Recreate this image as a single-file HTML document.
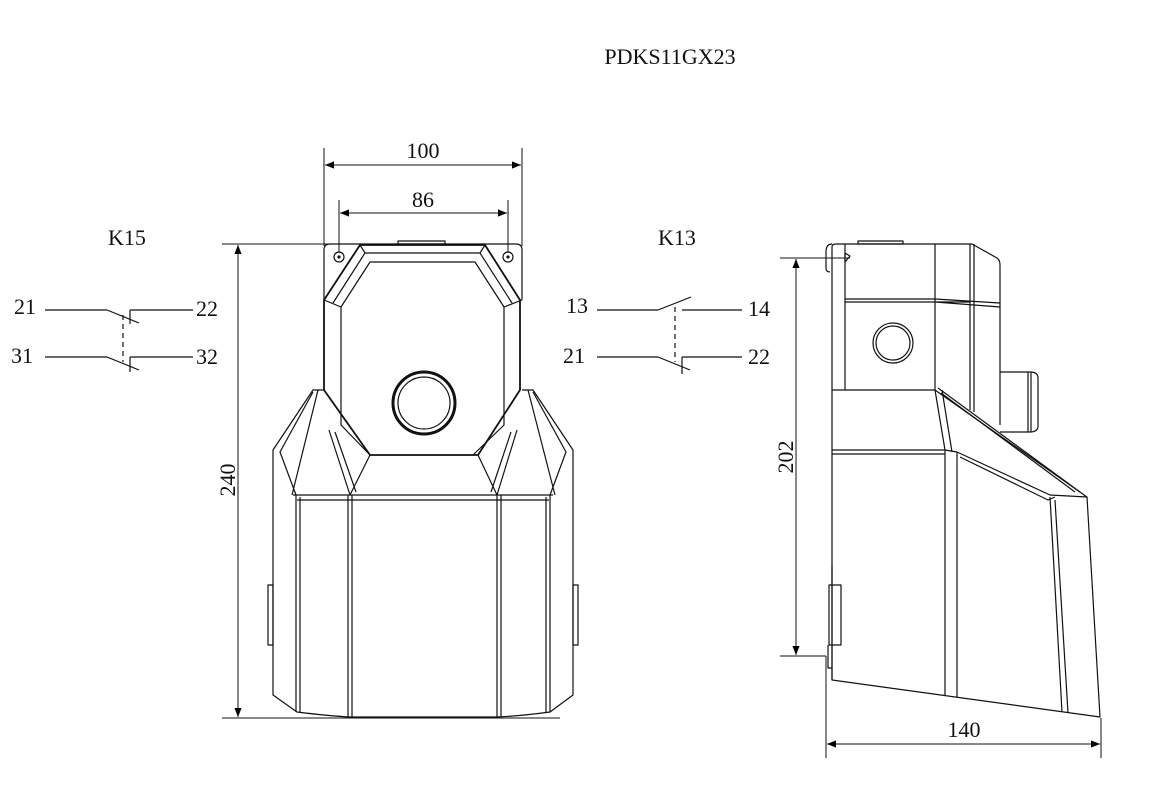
<!DOCTYPE html>
<html><head><meta charset="utf-8"><style>
html,body{margin:0;padding:0;background:#fff;}
svg{display:block;}
text{font-family:"Liberation Serif",serif;fill:#111;}
</style></head><body>
<svg width="1149" height="808" viewBox="0 0 1149 808" xmlns="http://www.w3.org/2000/svg">
<defs>
<marker id="a" viewBox="0 0 10 10" refX="10" refY="5" markerWidth="16" markerHeight="9" markerUnits="userSpaceOnUse" orient="auto-start-reverse"><path d="M0,1 L10,5 L0,9 z" fill="#000"/></marker>
</defs>
<text x="670" y="64" font-size="22" text-anchor="middle">PDKS11GX23</text>
<text x="127" y="245" font-size="22" text-anchor="middle">K15</text>
<text x="677" y="245" font-size="22" text-anchor="middle">K13</text>

<g stroke="#111" stroke-width="1.2" fill="none">
<line x1="45" y1="310" x2="107" y2="310"/><line x1="107" y1="310" x2="139" y2="323"/>
<line x1="130" y1="310" x2="193" y2="310"/><line x1="130" y1="310" x2="130" y2="324"/>
<line x1="45" y1="357" x2="107" y2="357"/><line x1="107" y1="357" x2="139" y2="370"/>
<line x1="130" y1="357" x2="193" y2="357"/><line x1="130" y1="357" x2="130" y2="372"/>
<line x1="123" y1="315" x2="123" y2="362" stroke-dasharray="5,4"/>
<line x1="597" y1="310" x2="658" y2="310"/><line x1="658" y1="310" x2="691" y2="297"/>
<line x1="682" y1="310" x2="742" y2="310"/>
<line x1="597" y1="357" x2="658" y2="357"/><line x1="658" y1="357" x2="690" y2="370"/>
<line x1="682" y1="357" x2="742" y2="357"/><line x1="682" y1="357" x2="682" y2="374"/>
<line x1="675" y1="307" x2="675" y2="362" stroke-dasharray="5,4"/>
</g>
<g font-size="22">
<text x="14" y="314">21</text><text x="196" y="316">22</text>
<text x="11" y="363">31</text><text x="196" y="364">32</text>
<text x="566" y="313">13</text><text x="748" y="316">14</text>
<text x="563" y="363">21</text><text x="748" y="364">22</text>
</g>

<g stroke="#111" stroke-width="1" fill="none">
<line x1="324" y1="148" x2="324" y2="246"/><line x1="522" y1="148" x2="522" y2="246"/>
<line x1="325" y1="165" x2="521" y2="165" marker-start="url(#a)" marker-end="url(#a)"/>
<line x1="339" y1="200" x2="339" y2="252"/><line x1="508" y1="200" x2="508" y2="252"/>
<line x1="340" y1="213" x2="507" y2="213" marker-start="url(#a)" marker-end="url(#a)"/>
<line x1="222" y1="244" x2="330" y2="244"/><line x1="222" y1="718" x2="560" y2="718"/>
<line x1="238" y1="245" x2="238" y2="717" marker-start="url(#a)" marker-end="url(#a)"/>
</g>
<text x="423" y="158" font-size="22" text-anchor="middle">100</text>
<text x="423" y="207" font-size="22" text-anchor="middle">86</text>
<text transform="translate(235,480) rotate(-90)" font-size="22" text-anchor="middle">240</text>

<g stroke="#111" stroke-width="1.2" fill="none" stroke-linejoin="round">
<path d="M330,244 H516 Q522,244 522,250 V300 M324,300 V250 Q324,244 330,244"/>
<rect x="398" y="241" width="47" height="3"/>
<circle cx="339" cy="257" r="5"/><circle cx="339" cy="257" r="1" fill="#111"/>
<circle cx="508" cy="257" r="5"/><circle cx="508" cy="257" r="1" fill="#111"/>
<path d="M360,245 H485 L520,300 V390 L478,455 H370 L324,390 V300 Z" stroke-width="1.8"/>
<path d="M370,262 H475 L504,307 V425 L473,455 M370,455 L341,425 V307 L370,262"/>
<path d="M365,253 H480 L512,303 M333,303 L365,253 M360,245 L365,253 M485,245 L480,253"/>
<path d="M324,300 L341,307 M522,300 L504,307"/>
<circle cx="424" cy="403" r="31" stroke-width="3"/>
<circle cx="424" cy="403" r="26"/>
<path d="M324,390 L313,390 L273,450 V695 L297,712 Q330,716 350,717 H497 Q520,716 550,712 L573,695 V450 L533,390 L522,390"/>
<path d="M318,390 L292,495 M313,392 L280,452 L296,495 M528,390 L555,495 M533,392 L566,452 L550,495"/>
<path d="M293,495 H553 M297,500 H549"/>
<path d="M296,495 V712 M300,497 V713 M348,495 V717 M352,495 V717 M497,495 V717 M501,495 V717 M550,495 V712 M546,497 V713"/>
<path d="M329,430 L350,495 M370,455 L350,495 M517,430 L497,495 M478,455 L497,495 M335,432 L356,492 M511,432 L491,492"/>
<rect x="268" y="585" width="5" height="60"/><rect x="573" y="585" width="5" height="60"/>
</g>

<g stroke="#111" stroke-width="1" fill="none">
<line x1="780" y1="258" x2="850" y2="258"/><line x1="780" y1="656" x2="826" y2="656"/>
<line x1="796" y1="259" x2="796" y2="655" marker-start="url(#a)" marker-end="url(#a)"/>
<line x1="826" y1="656" x2="826" y2="758"/><line x1="1101" y1="718" x2="1101" y2="758"/>
<line x1="827" y1="744" x2="1100" y2="744" marker-start="url(#a)" marker-end="url(#a)"/>
</g>
<text transform="translate(793,457) rotate(-90)" font-size="22" text-anchor="middle">202</text>
<text x="964" y="737" font-size="22" text-anchor="middle">140</text>

<g stroke="#111" stroke-width="1.2" fill="none" stroke-linejoin="round">
<path d="M832,390 V247 Q832,244 836,244 H972 L997,258 Q1000,260 1000,265 V425"/>
<rect x="858" y="241" width="45" height="3"/>
<path d="M826,252 Q826,244 832,244 M826,252 V268 Q826,272 830,272"/>
<path d="M845,253 L850,256 L845,262 Z"/>
<path d="M845,244 V390 M935,244 V390 M970,244 V410 M974,244 V412"/>
<path d="M845,299 H935 L1000,303 M845,302 H935 L1000,307 M935,302 H970"/>
<circle cx="893" cy="343" r="20"/><circle cx="893" cy="343" r="17"/>
<path d="M1000,372 H1030 Q1038,372 1038,378 V426 Q1038,432 1030,432 H1000 M1028,372 V432 M1031,372 V432"/>
<path d="M832,390 H935 L1087,497 L1100,717 L832,680 Z M832,390 L832,680"/>
<path d="M938,388 L1080,492 M941,393 L1075,492"/>
<path d="M935,390 L945,450 L957,452 M942,390 L952,452"/>
<path d="M832,450 H945 M832,454 H945"/>
<path d="M957,452 L1050,495 L1087,497 M960,457 L1048,500 L1055,497"/>
<path d="M945,450 V695 M957,452 V697 M1055,500 L1068,713 M1050,497 L1062,712"/>
<rect x="829" y="585" width="12" height="60"/>
<path d="M832,565 V680 M828,645 V668 H832"/>
</g>
</svg>
</body></html>
